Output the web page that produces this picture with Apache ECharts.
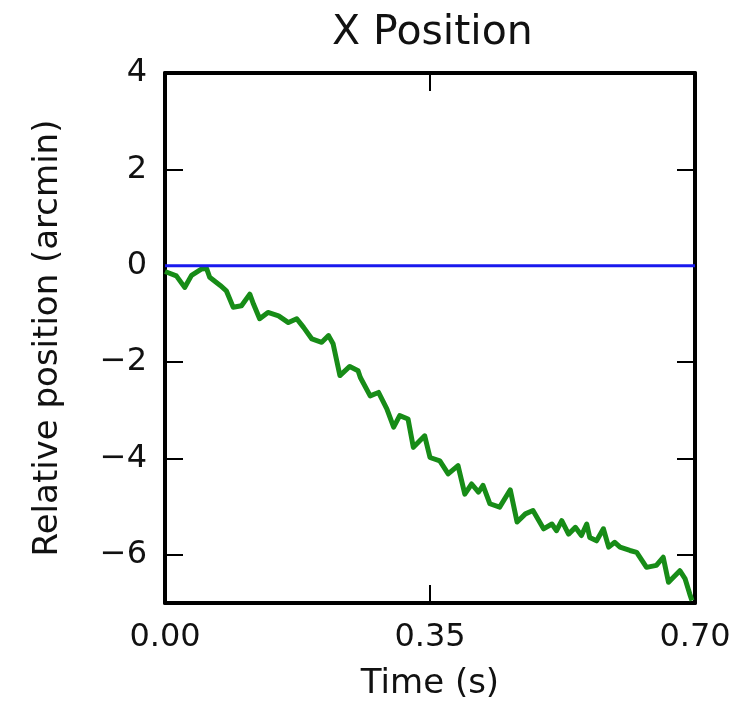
<!DOCTYPE html>
<html>
<head>
<meta charset="utf-8">
<script src="https://cdn.jsdelivr.net/npm/echarts@6/dist/echarts.min.js"></script>
<style>
  html, body { margin: 0; padding: 0; background: #fff; }
  #chart { width: 747px; height: 720px; }
</style>
</head>
<body>
<div id="chart"></div>
<script>
// 数据：时间 (s) 与相对位置 (arcmin)
var timeVals = [0.000, 0.002, 0.015, 0.026, 0.035, 0.048, 0.055, 0.059, 0.073, 0.081, 0.090,
    0.101, 0.112, 0.117, 0.125, 0.136, 0.150, 0.163, 0.174, 0.183, 0.194, 0.207, 0.216,
    0.222, 0.231, 0.244, 0.255, 0.258, 0.271, 0.282, 0.293, 0.302, 0.310, 0.321, 0.328,
    0.343, 0.350, 0.363, 0.374, 0.387, 0.396, 0.405, 0.414, 0.420, 0.429, 0.442, 0.456,
    0.465, 0.476, 0.486, 0.500, 0.511, 0.517, 0.524, 0.533, 0.542, 0.550, 0.557, 0.561,
    0.570, 0.579, 0.586, 0.594, 0.601, 0.614, 0.623, 0.636, 0.649, 0.658, 0.665, 0.680,
    0.687, 0.693, 0.696];
var xPosVals = [-0.12, -0.14, -0.21, -0.45, -0.20, -0.07, -0.06, -0.24, -0.41, -0.52, -0.86,
    -0.83, -0.59, -0.80, -1.10, -0.97, -1.04, -1.18, -1.10, -1.28, -1.52, -1.59, -1.45,
    -1.62, -2.28, -2.09, -2.18, -2.32, -2.70, -2.63, -2.97, -3.35, -3.11, -3.18, -3.77,
    -3.53, -3.98, -4.05, -4.32, -4.15, -4.74, -4.53, -4.70, -4.56, -4.94, -5.01, -4.65,
    -5.32, -5.15, -5.08, -5.46, -5.36, -5.50, -5.29, -5.57, -5.43, -5.60, -5.36, -5.64,
    -5.71, -5.46, -5.84, -5.74, -5.84, -5.91, -5.95, -6.26, -6.22, -6.05, -6.57, -6.33,
    -6.50, -6.81, -6.95];
var refTime = [0.0, 0.70];
var refVals = [0, 0];
var xTicks = [0, 0.35, 0.70];
var yTicks = [-6, -4, -2, 0, 2, 4];

var FONT = 'DejaVu Sans';

function zip(a, b) {
    var out = [];
    for (var i = 0; i < a.length; i++) {
        out.push([a[i], b[i]]);
    }
    return out;
}

var myChart = echarts.init(document.getElementById('chart'), null, { renderer: 'canvas' });

var frameLine = { show: true, onZero: false, lineStyle: { color: '#000', width: 4 } };
var innerTick = { show: true, inside: true, length: 18, lineStyle: { color: '#000', width: 2 } };

var option = {
    backgroundColor: '#fff',
    animation: false,
    title: {
        text: 'X Position',
        left: 327,
        top: 8,
        textStyle: { fontFamily: FONT, fontSize: 41, fontWeight: 'normal', color: '#111' }
    },
    grid: { left: 165, right: 52, top: 73, bottom: 117, containLabel: false },
    xAxis: [{
        type: 'value',
        min: 0,
        max: 0.70,
        name: 'Time (s)',
        nameLocation: 'middle',
        nameGap: 64,
        nameTextStyle: { fontFamily: FONT, fontSize: 34, color: '#111' },
        axisLine: frameLine,
        axisTick: Object.assign({ customValues: xTicks }, innerTick),
        axisLabel: {
            customValues: xTicks,
            margin: 19,
            fontFamily: FONT,
            fontSize: 32,
            color: '#111',
            formatter: function (v) { return v.toFixed(2); }
        },
        splitLine: { show: false }
    }, {
        type: 'value',
        position: 'top',
        min: 0,
        max: 0.70,
        axisLine: frameLine,
        axisTick: Object.assign({ customValues: xTicks }, innerTick),
        axisLabel: { show: false },
        splitLine: { show: false }
    }],
    yAxis: [{
        type: 'value',
        min: -7,
        max: 4,
        name: 'Relative position (arcmin)',
        nameLocation: 'middle',
        nameGap: 100,
        nameTextStyle: { fontFamily: FONT, fontSize: 34, color: '#111' },
        axisLine: frameLine,
        axisTick: Object.assign({ customValues: yTicks }, innerTick),
        axisLabel: {
            customValues: yTicks,
            margin: 18,
            fontFamily: FONT,
            fontSize: 32,
            color: '#111',
            formatter: function (v) { return String(v).replace('-', '\u2212'); }
        },
        splitLine: { show: false }
    }, {
        type: 'value',
        position: 'right',
        min: -7,
        max: 4,
        axisLine: frameLine,
        axisTick: Object.assign({ customValues: yTicks }, innerTick),
        axisLabel: { show: false },
        splitLine: { show: false }
    }],
    series: [{
        name: 'X',
        type: 'line',
        data: zip(timeVals, xPosVals),
        showSymbol: false,
        lineStyle: { color: '#178c17', width: 5, join: 'round' },
        z: 2
    }, {
        name: 'ref',
        type: 'line',
        data: zip(refTime, refVals),
        showSymbol: false,
        lineStyle: { color: '#1a1aee', width: 3 },
        z: 3
    }]
};

myChart.setOption(option);
</script>
</body>
</html>
